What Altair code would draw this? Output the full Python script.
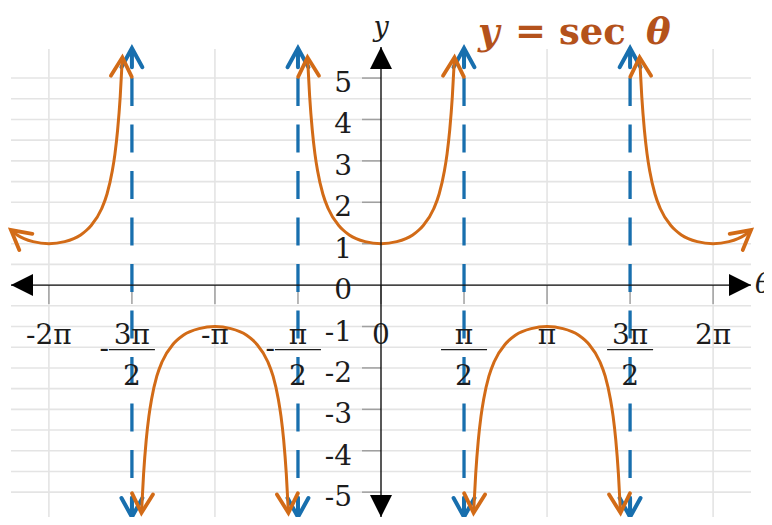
import math
import pandas as pd
import altair as alt

PI = math.pi

# ---------------- data ----------------
# one period of the curve: offset from branch centre (rad) and sec value
sec_offsets = [-1.39, -1.35, -1.3, -1.25, -1.2, -1.1, -1.0, -0.8, -0.717, -0.6, -0.3, 0.0,
               0.3, 0.6, 0.717, 0.8, 1.0, 1.1, 1.2, 1.25, 1.3, 1.35, 1.39]
sec_values = [5.5, 4.56, 3.74, 3.17, 2.76, 2.2, 1.85, 1.44, 1.33, 1.21, 1.05, 1.0,
              1.05, 1.21, 1.33, 1.44, 1.85, 2.2, 2.76, 3.17, 3.74, 4.56, 5.5]
branch_centres = [-2 * PI, -PI, 0.0, PI, 2 * PI]
branch_signs = [1, -1, 1, -1, 1]

asymptotes = [-3 * PI / 2, -PI / 2, PI / 2, 3 * PI / 2]

x_tick_values = [-2 * PI, -3 * PI / 2, -PI, -PI / 2, 0.0, PI / 2, PI, 3 * PI / 2, 2 * PI]
x_tick_labels = ["-2π", "-3π/2", "-π", "-π/2", "0", "π/2", "π", "3π/2", "2π"]
y_tick_values = [-5, -4, -3, -2, -1, 0, 1, 2, 3, 4, 5]
y_tick_labels = ["-5", "-4", "-3", "-2", "-1", "0", "1", "2", "3", "4", "5"]

h_grid = [-5, -4.5, -4, -3.5, -3, -2.5, -2, -1.5, -1, -0.5, 0, 0.5, 1, 1.5, 2, 2.5, 3, 3.5, 4, 4.5, 5]
v_grid = [-2 * PI, -PI, PI, 2 * PI]

X_MIN, X_MAX = -7.0, 7.0
Y_MIN, Y_MAX = -5.6, 5.75

# ---------------- styles ----------------
W, H = 740, 470
ORANGE = "#d26b17"
BLUE = "#186fae"
TITLE_C = "#b4521b"
GRID = "#e4e4e4"
TICK = "#a0a0a0"
FONT = "DejaVu Serif"

xs = alt.Scale(domain=[X_MIN, X_MAX], nice=False, zero=False)
ys = alt.Scale(domain=[Y_MIN, Y_MAX], nice=False, zero=False)


def X(f):
    return alt.X(f, type="quantitative", scale=xs, axis=None)


def Y(f):
    return alt.Y(f, type="quantitative", scale=ys, axis=None)


px_x = W / (X_MAX - X_MIN)
px_y = H / (Y_MAX - Y_MIN)

# ---------------- tables ----------------
rows = []
for b, (c, s) in enumerate(zip(branch_centres, branch_signs)):
    for d, v in zip(sec_offsets, sec_values):
        t = c + d
        if X_MIN - 0.002 <= t <= X_MAX + 0.002:
            rows.append({"theta": t, "y": s * v, "branch": b})
curve_df = pd.DataFrame(rows)


def arrow_angle(p_from, p_to):
    dx = (p_to[0] - p_from[0]) * px_x
    dy = -(p_to[1] - p_from[1]) * px_y
    return math.degrees(math.atan2(dx, -dy)) % 360


arrow_rows = []
for b, g in curve_df.groupby("branch"):
    g = g.sort_values("theta")
    pts = list(zip(g["theta"], g["y"]))
    arrow_rows.append({"theta": pts[0][0], "y": pts[0][1], "angle": arrow_angle(pts[1], pts[0])})
    arrow_rows.append({"theta": pts[-1][0], "y": pts[-1][1], "angle": arrow_angle(pts[-2], pts[-1])})
curve_arrows_df = pd.DataFrame(arrow_rows)

hgrid_df = pd.DataFrame({"y": h_grid, "x": X_MIN, "x2": X_MAX})
vgrid_df = pd.DataFrame({"x": v_grid, "y": Y_MIN, "y2": 5.7})
xtick_df = pd.DataFrame({"x": x_tick_values, "y": 0.0, "y2": 0.0})
ytick_df = pd.DataFrame({"y": [v for v in y_tick_values if v != 0], "x": 0.0, "x2": 0.0})
asym_df = pd.DataFrame({"x": asymptotes, "y": 5.0, "y2": Y_MIN})
asym_arrow_df = pd.DataFrame({
    "x": asymptotes + asymptotes,
    "y": [5.72] * 4 + [Y_MIN] * 4,
    "angle": [0] * 4 + [180] * 4,
})
xaxis_df = pd.DataFrame({"x": [X_MIN], "x2": [X_MAX], "y": [0.0]})
yaxis_df = pd.DataFrame({"x": [0.0], "y": [Y_MIN], "y2": [Y_MAX]})
tri_df = pd.DataFrame({"x": [X_MIN, X_MAX, 0.0, 0.0], "y": [0.0, 0.0, Y_MAX, Y_MIN],
                       "angle": [270, 90, 0, 180]})

simple_rows, frac_rows = [], []
for v, lab in zip(x_tick_values, x_tick_labels):
    neg = lab.startswith("-")
    if "/" in lab:
        num, den = lab.lstrip("-").split("/")
        frac_rows.append({"x": v, "y": 0.0, "num": num, "den": den, "minus": "-" if neg else ""})
    else:
        simple_rows.append({"x": v, "y": 0.0, "txt": lab})
xlab_simple = pd.DataFrame(simple_rows)
xlab_frac = pd.DataFrame(frac_rows)
ylab_df = pd.DataFrame({"y": y_tick_values, "x": 0.0, "txt": y_tick_labels})

# ---------------- layers ----------------
chev = "M -0.55 1 L 0 0 L 0.55 1"
chev_stem = "M -0.55 1 L 0 0 L 0.55 1 M 0 0 L 0 1"
tri = "M 0 0 L 0.5 1 L -0.5 1 Z"

hgrid = alt.Chart(hgrid_df).mark_rule(color=GRID, strokeWidth=1.6).encode(x=X("x"), x2="x2", y=Y("y"))
vgrid = alt.Chart(vgrid_df).mark_rule(color=GRID, strokeWidth=1.6).encode(x=X("x"), y=Y("y"), y2="y2")
xticks = alt.Chart(xtick_df).mark_rule(color=TICK, strokeWidth=1.5, y2Offset=19).encode(
    x=X("x"), y=Y("y"), y2="y2")
yticks = alt.Chart(ytick_df).mark_rule(color=TICK, strokeWidth=1.5, xOffset=-19).encode(
    x=X("x"), x2="x2", y=Y("y"))

asym = alt.Chart(asym_df).mark_rule(color=BLUE, strokeWidth=3.3, strokeDash=[28, 18.5]).encode(
    x=X("x"), y=Y("y"), y2="y2")
asym_arrows = alt.Chart(asym_arrow_df).mark_point(
    shape=chev_stem, filled=False, size=1444, strokeWidth=4, color=BLUE, opacity=1,
    strokeJoin="miter", strokeCap="round").encode(
    x=X("x"), y=Y("y"), angle=alt.Angle("angle:Q", scale=None))

common_text = dict(font=FONT, fontSize=28, color="#1c1c1c")
ylabels = alt.Chart(ylab_df).mark_text(align="right", baseline="middle", dx=-29, dy=6, **common_text).encode(
    x=X("x"), y=Y("y"), text="txt:N")
xlabels = alt.Chart(xlab_simple).mark_text(
    align="center", baseline="alphabetic", dy=59, **common_text).encode(
    x=X("x"), y=Y("y"), text="txt:N")
xlab_num = alt.Chart(xlab_frac).mark_text(align="center", baseline="alphabetic", dy=59, **common_text).encode(
    x=X("x"), y=Y("y"), text="num:N")
xlab_den = alt.Chart(xlab_frac).mark_text(align="center", baseline="alphabetic", dy=100, **common_text).encode(
    x=X("x"), y=Y("y"), text="den:N")
xlab_bar = alt.Chart(xlab_frac).mark_rule(color="#1c1c1c", strokeWidth=1.4, xOffset=-23, x2Offset=23,
                                          yOffset=64.5).encode(x=X("x"), x2="x", y=Y("y"))
xlab_minus = alt.Chart(xlab_frac).mark_text(align="right", baseline="middle", dx=-23, dy=64, **common_text).encode(
    x=X("x"), y=Y("y"), text="minus:N")

curve = alt.Chart(curve_df).mark_line(interpolate="monotone", color=ORANGE, strokeWidth=3).encode(
    x=X("theta"), y=Y("y"), detail="branch:N")
curve_arrows = alt.Chart(curve_arrows_df).mark_point(
    shape=chev, filled=False, size=1444, strokeWidth=3.8, color=ORANGE, opacity=1,
    strokeJoin="miter", strokeCap="round").encode(
    x=X("theta"), y=Y("y"), angle=alt.Angle("angle:Q", scale=None))

xaxis = alt.Chart(xaxis_df).mark_rule(color="#111111", strokeWidth=1.4).encode(x=X("x"), x2="x2", y=Y("y"))
yaxis = alt.Chart(yaxis_df).mark_rule(color="#111111", strokeWidth=1.4).encode(x=X("x"), y=Y("y"), y2="y2")
tris = alt.Chart(tri_df).mark_point(shape=tri, filled=True, size=1936, color="#000000", opacity=1).encode(
    x=X("x"), y=Y("y"), angle=alt.Angle("angle:Q", scale=None))

ytitle = alt.Chart(pd.DataFrame({"x": [0.0], "y": [Y_MAX], "t": ["y"]})).mark_text(
    font=FONT, fontSize=27, fontStyle="italic", color="#1c1c1c", align="center",
    baseline="alphabetic", dy=-11).encode(x=X("x"), y=Y("y"), text="t:N")
xtitle = alt.Chart(pd.DataFrame({"x": [X_MAX], "y": [0.0], "t": ["θ"]})).mark_text(
    font=FONT, fontSize=28, fontStyle="italic", color="#1c1c1c", align="left",
    baseline="middle", dx=4).encode(x=X("x"), y=Y("y"), text="t:N")

title_font = dict(font=FONT, fontSize=37, fontWeight="bold", color=TITLE_C, align="left", baseline="alphabetic")
t1 = alt.Chart(pd.DataFrame({"t": ["y"]})).mark_text(fontStyle="italic", **title_font).encode(
    x=alt.value(467), y=alt.value(-3), text="t:N")
t2 = alt.Chart(pd.DataFrame({"t": ["= sec"]})).mark_text(**title_font).encode(
    x=alt.value(504), y=alt.value(-3), text="t:N")
t3 = alt.Chart(pd.DataFrame({"t": ["θ"]})).mark_text(fontStyle="italic", **title_font).encode(
    x=alt.value(635), y=alt.value(-3), text="t:N")

chart = alt.layer(
    hgrid, vgrid, xticks, yticks, asym, asym_arrows,
    ylabels, xlabels, xlab_num, xlab_den, xlab_bar, xlab_minus,
    curve, curve_arrows, xaxis, yaxis, tris, ytitle, xtitle, t1, t2, t3,
).properties(
    width=W, height=H,
    padding={"left": 3, "top": 39, "right": 13, "bottom": 0},
    autosize=alt.AutoSizeParams(type="none"),
).configure_view(stroke=None)

chart.save("out.html", embed_options={"renderer": "svg", "actions": False})
